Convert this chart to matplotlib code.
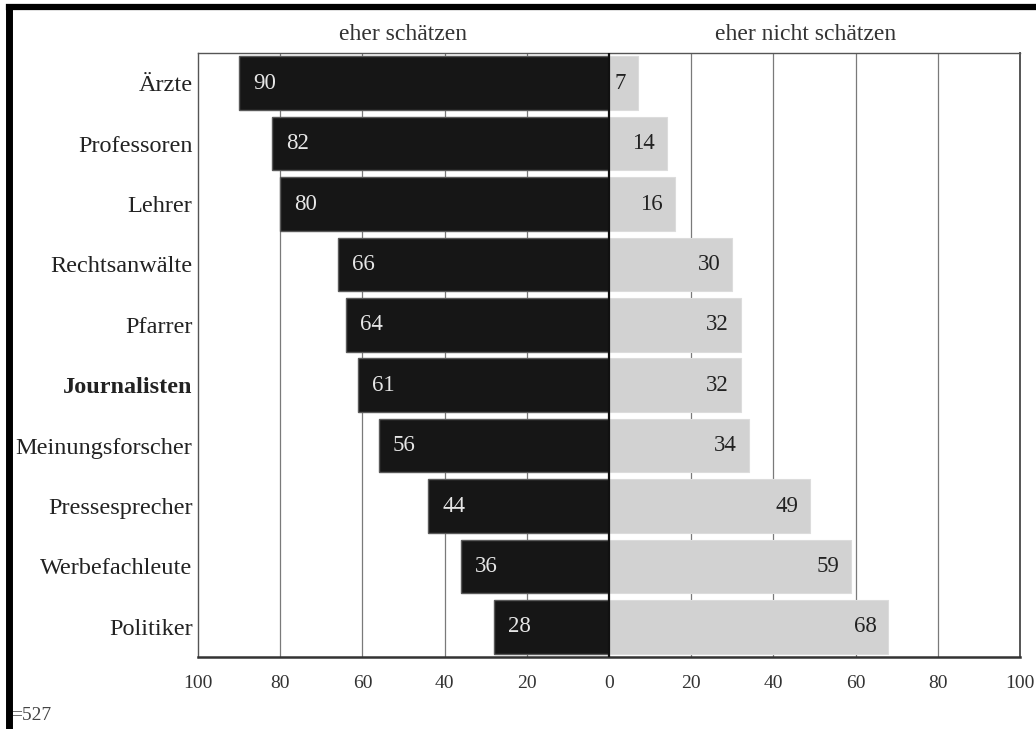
import matplotlib
matplotlib.use("Agg")
import matplotlib.pyplot as plt
from matplotlib.lines import Line2D

# Survey data: share of respondents (%) per occupational group
categories = ["Ärzte", "Professoren", "Lehrer", "Rechtsanwälte", "Pfarrer",
              "Journalisten", "Meinungsforscher", "Pressesprecher",
              "Werbefachleute", "Politiker"]
eher_schaetzen = [90, 82, 80, 66, 64, 61, 56, 44, 36, 28]
eher_nicht_schaetzen = [7, 14, 16, 30, 32, 32, 34, 49, 59, 68]
tick_values = [-100, -80, -60, -40, -20, 0, 20, 40, 60, 80, 100]
tick_labels = ["100", "80", "60", "40", "20", "0", "20", "40", "60", "80", "100"]
header_left = "eher schätzen"
header_right = "eher nicht schätzen"
sample_note = "=527"

plt.rcParams["font.family"] = ["Liberation Serif", "DejaVu Serif"]

W, H = 1036, 729
fig = plt.figure(figsize=(W / 100, H / 100), dpi=100)
ax = fig.add_axes([198 / W, 72 / H, (1020 - 198) / W, (657 - 53) / H])

ypos = list(range(len(categories)))
bar_h = 0.89

# vertical grid behind the bars
for v in tick_values:
    if v not in (-100, 0, 100):
        ax.axvline(v, color="#7a7a7a", lw=0.9, zorder=0)

ax.barh(ypos, [-v for v in eher_schaetzen], height=bar_h, color="#161616",
        edgecolor="#5a5a5a", lw=1.0, zorder=2)
ax.barh(ypos, eher_nicht_schaetzen, height=bar_h, color="#d2d2d2",
        edgecolor="#dcdcdc", lw=0.8, zorder=2)
ax.axvline(0, color="#111111", lw=1.6, zorder=3)

for y, v in zip(ypos, eher_schaetzen):
    ax.text(-v + 3.4, y, str(v), ha="left", va="center", fontsize=16.5,
            color="#e6e6e6", zorder=4)
for y, v in zip(ypos, eher_nicht_schaetzen):
    ax.text(v - 2.9, y, str(v), ha="right", va="center", fontsize=16.5,
            color="#222222", zorder=4)

ax.set_xlim(-100, 100)
ax.set_ylim(len(categories) - 0.5, -0.5)
ax.set_xticks(tick_values)
ax.set_xticklabels(tick_labels, fontsize=14, color="#333333")
ax.set_yticks(ypos)
ax.set_yticklabels(categories, fontsize=17.5, color="#222222")
for lbl in ax.get_yticklabels():
    if lbl.get_text() == "Journalisten":
        lbl.set_fontweight("bold")
ax.tick_params(axis="both", length=0)
ax.tick_params(axis="x", pad=13)
ax.tick_params(axis="y", pad=4)

for side, sp in ax.spines.items():
    sp.set_color("#555555")
    sp.set_linewidth(1.0)
ax.spines["bottom"].set_color("#333333")
ax.spines["bottom"].set_linewidth(1.8)
ax.spines["right"].set_linewidth(1.4)

fig.text(403 / W, 1 - 35 / H, header_left, ha="center", va="center",
         fontsize=17, color="#333333")
fig.text(806 / W, 1 - 35 / H, header_right, ha="center", va="center",
         fontsize=17, color="#333333")
fig.text(11 / W, 1 - 715 / H, sample_note, ha="left", va="center",
         fontsize=14, color="#444444", zorder=1)

# page frame (left and top edges)
fig.add_artist(Line2D([8.5 / W, 8.5 / W], [0, 1 - 7 / H], color="black",
                      lw=5.0, transform=fig.transFigure, zorder=10,
                      solid_capstyle="projecting"))
fig.add_artist(Line2D([8.5 / W, 1], [1 - 7 / H, 1 - 7 / H], color="black",
                      lw=4.5, transform=fig.transFigure, zorder=10))

fig.savefig("out.png", dpi=100, facecolor="white")
